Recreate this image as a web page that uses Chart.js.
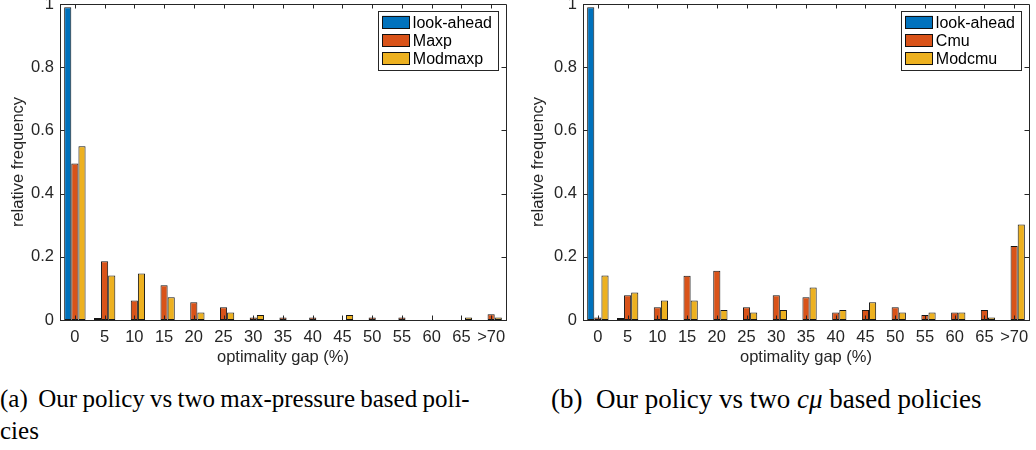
<!DOCTYPE html>
<html>
<head>
<meta charset="utf-8">
<script src="https://cdn.jsdelivr.net/npm/chart.js@4.4.1/dist/chart.umd.min.js"></script>
<style>
    body { margin: 0; background: #fff; width: 1036px; height: 450px; position: relative; overflow: hidden; }
    canvas { position: absolute; top: 0; }
    #chartA { left: 0; }
    #chartB { left: 520px; }
    .caption { position: absolute; font-family: "Liberation Serif", "Times New Roman", serif; font-size: 26px; line-height: 32px; color: #000; white-space: nowrap; }
    #capA { left: 0; top: 383px; font-size: 25px; word-spacing: -1px; }
    #capB { left: 551px; top: 383px; font-size: 27px; }
</style>
</head>
<body>
<canvas id="chartA" width="520" height="372"></canvas>
<canvas id="chartB" width="516" height="372"></canvas>
<div class="caption" id="capA">(a)&nbsp; Our policy vs two max-pressure based poli-<br>cies</div>
<div class="caption" id="capB">(b)&nbsp; Our policy vs two <i>c&mu;</i> based policies</div>

<script>
// optimality gap bins
var gaps = ['0', '5', '10', '15', '20', '25', '30', '35', '40', '45', '50', '55', '60', '65', '>70'];
var yTickLabels = ['0', '0.2', '0.4', '0.6', '0.8', '1'];

// (a) look-ahead vs max-pressure policies
var lookAheadA = [0.99, 0.006, 0, 0, 0, 0, 0, 0, 0, 0, 0, 0, 0, 0, 0];
var maxp       = [0.495, 0.186, 0.062, 0.11, 0.056, 0.04, 0.008, 0.008, 0.008, 0, 0.008, 0.008, 0, 0, 0.018];
var modmaxp    = [0.55, 0.141, 0.147, 0.072, 0.024, 0.024, 0.016, 0, 0, 0.016, 0, 0, 0, 0.008, 0.008];

// (b) look-ahead vs c-mu policies
var lookAheadB = [0.99, 0.006, 0, 0, 0, 0, 0, 0, 0, 0, 0, 0, 0, 0, 0];
var cmu        = [0.008, 0.078, 0.04, 0.14, 0.156, 0.04, 0.078, 0.072, 0.024, 0.032, 0.04, 0.016, 0.024, 0.032, 0.234];
var modcmu     = [0.141, 0.087, 0.062, 0.062, 0.032, 0.024, 0.032, 0.103, 0.032, 0.056, 0.024, 0.024, 0.024, 0.008, 0.302];

var blue = '#0072BD', red = '#D95319', yellow = '#EDB120';
var axisColor = '#262626';

// box on + inward ticks like matlab
var framePlugin = {
    id: 'frame',
    afterDatasetsDraw: function (chart) {
        var ctx = chart.ctx, a = chart.chartArea;
        var xs = chart.scales.x, ys = chart.scales.y;
        var tl = 4.5;
        ctx.save();
        ctx.strokeStyle = axisColor;
        ctx.lineWidth = 1;
        ctx.beginPath();
        ctx.moveTo(a.left, a.top + 0.5);
        ctx.lineTo(a.right + 0.5, a.top + 0.5);
        ctx.lineTo(a.right + 0.5, a.bottom);
        for (var i = 0; i < gaps.length; i++) {
            var x = Math.round(xs.getPixelForValue(i)) + 0.5;
            ctx.moveTo(x, a.top);
            ctx.lineTo(x, a.top + tl);
            ctx.moveTo(x, a.bottom);
            ctx.lineTo(x, a.bottom - tl);
        }
        ys.ticks.forEach(function (t) {
            var y = Math.round(ys.getPixelForValue(t.value)) + 0.5;
            ctx.moveTo(a.left, y);
            ctx.lineTo(a.left + tl, y);
            ctx.moveTo(a.right, y);
            ctx.lineTo(a.right - tl, y);
        });
        ctx.stroke();
        ctx.restore();
    }
};

// matlab style legend box in the top right corner
var legendPlugin = {
    id: 'boxLegend',
    afterDraw: function (chart) {
        var ctx = chart.ctx, a = chart.chartArea;
        var sets = chart.data.datasets;
        ctx.save();
        ctx.font = '16px "Liberation Sans", Arial, sans-serif';
        var w = 0;
        sets.forEach(function (d) { w = Math.max(w, ctx.measureText(d.label).width); });
        var boxW = 4.5 + 27.5 + 3 + w + 6;
        var rowH = 18.3;
        var boxH = sets.length * rowH + 4;
        var right = a.right - 8, top = a.top + 7;
        var left = right - boxW;
        ctx.fillStyle = '#fff';
        ctx.fillRect(left, top, boxW, boxH);
        ctx.strokeStyle = axisColor;
        ctx.lineWidth = 1;
        ctx.strokeRect(Math.round(left) + 0.5, Math.round(top) + 0.5, Math.round(boxW), Math.round(boxH));
        sets.forEach(function (d, i) {
            var cy = top + 2 + rowH * i + rowH / 2;
            ctx.fillStyle = d.backgroundColor;
            ctx.fillRect(left + 4.5, cy - 6.3, 27.5, 12.6);
            ctx.strokeStyle = '#111';
            ctx.strokeRect(Math.round(left + 4.5) + 0.5, Math.round(cy - 6.3) + 0.5, 27, 12);
            ctx.fillStyle = '#000';
            ctx.textBaseline = 'middle';
            ctx.fillText(d.label, left + 4.5 + 27.5 + 3, cy + 1);
        });
        ctx.restore();
    }
};

function makeChart(id, names, series, yWidth, padRight) {
    var colors = [blue, red, yellow];
    var ds = series.map(function (s, i) {
        return {
            label: names[i],
            data: s,
            backgroundColor: colors[i],
            borderColor: '#151515',
            borderWidth: 1,
            borderSkipped: false,
            categoryPercentage: 0.72,
            barPercentage: 1
        };
    });
    var font = { family: '"Liberation Sans", Arial, sans-serif', size: 16.5 };
    return new Chart(document.getElementById(id).getContext('2d'), {
        type: 'bar',
        data: { labels: gaps, datasets: ds },
        options: {
            responsive: false,
            animation: false,
            layout: { padding: { top: 4, right: padRight, left: 0, bottom: 0 } },
            plugins: { legend: { display: false }, tooltip: { enabled: false } },
            scales: {
                x: {
                    grid: { display: false, drawTicks: false },
                    border: { display: true, color: axisColor, width: 1 },
                    ticks: { color: axisColor, font: font, padding: 7.5, maxRotation: 0, autoSkip: false },
                    title: { display: true, text: 'optimality gap (%)', color: axisColor, font: font, padding: { top: 0, bottom: 5 } },
                    afterFit: function (scale) {
                        scale.height = 52;
                        scale.paddingLeft = 0;
                        scale.paddingRight = 0;
                    }
                },
                y: {
                    min: 0,
                    max: 1,
                    grid: { display: false, drawTicks: false },
                    border: { display: true, color: axisColor, width: 1 },
                    ticks: {
                        stepSize: 0.2, color: axisColor, font: font, padding: 6,
                        callback: function (v, i) { return yTickLabels[i]; }
                    },
                    title: { display: true, text: 'relative frequency', color: axisColor, font: font, padding: { top: 8.4, bottom: 0 } },
                    afterFit: function (scale) {
                        scale.width = yWidth;
                        scale.paddingTop = 0;
                        scale.paddingBottom = 0;
                    }
                }
            }
        },
        plugins: [framePlugin, legendPlugin]
    });
}

var chartA = makeChart('chartA', ['look-ahead', 'Maxp', 'Modmaxp'], [lookAheadA, maxp, modmaxp], 60, 14);
var chartB = makeChart('chartB', ['look-ahead', 'Cmu', 'Modcmu'], [lookAheadB, cmu, modcmu], 63, 7);
</script>
</body>
</html>
